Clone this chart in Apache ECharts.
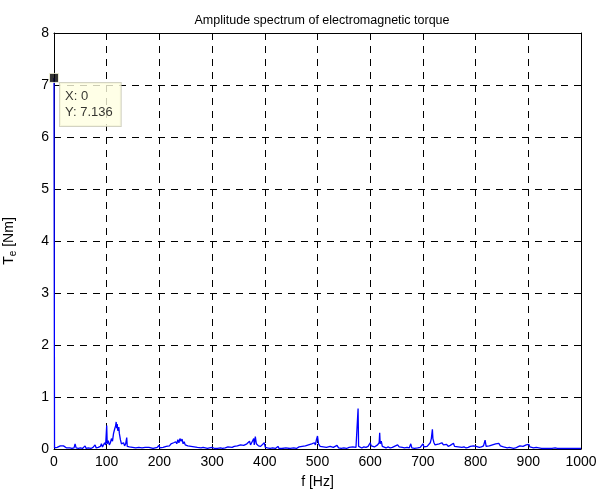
<!DOCTYPE html>
<html>
<head>
<meta charset="utf-8">
<script src="https://cdn.jsdelivr.net/npm/echarts@6/dist/echarts.min.js"></script>
<style>
html,body{margin:0;padding:0;background:#fff;}
#chart{width:598px;height:495px;}
</style>
</head>
<body>
<div id="chart"></div>
<script>
var titleText = 'Amplitude spectrum of electromagnetic torque';
var xTicks = [0,100,200,300,400,500,600,700,800,900,1000];
var yTicks = [0,1,2,3,4,5,6,7,8];
var freqHz = [0,1,3,6,9,12,15,18,21,24,27,30,34,38,40,42,46,50,54,57,59,61,65,70,74,78,80,84,88,90,92,94,96,98,
100,101,103,105,107,109,111,113,115,117,118,119,120,121,123,124,126,128,130,132,134,136,138,139,141,143,146,149,
152,155,158,161,164,167,170,173,176,180,184,188,192,196,199,201,204,207,210,213,216,219,222,225,227,229,231,233,
235,237,239,241,243,245,247,249,251,254,257,260,263,266,269,272,275,279,283,287,291,295,300,305,310,316,320,325,
330,333,338,342,345,348,351,354,357,360,363,366,369,371,373,375,377,379,380,382,384,386,388,390,392,395,399,401,
405,410,415,420,425,427,432,440,448,455,460,465,468,471,474,477,480,483,486,489,491,494,496,498,500,502,505,508,
511,514,517,520,524,527,530,533,537,540,545,550,555,560,563,567,570,573,576,577,578,581,584,588,592,596,598,600,
602,605,608,611,614,617,618,619,621,623,626,630,634,638,642,646,649,652,655,658,661,665,670,674,677,679,684,690,
695,698,700,702,705,708,711,714,716,718,719,721,723,725,727,729,731,733,736,739,742,745,748,752,755,758,760,763,
767,770,774,778,782,786,790,793,796,799,801,804,807,811,815,818,820,823,826,829,832,835,838,841,844,847,850,853,
856,860,864,868,872,876,880,884,887,890,893,896,899,901,903,906,910,915,918,925,935,945,951,955,965,975,990,1000];
var amplitudeNm = [7.136,0.02,0.01,0.03,0.05,0.06,0.07,0.06,0.04,0.02,0.01,0.02,0.01,0.02,0.1,0.02,0.01,0.02,0.01,0.02,0.06,0.01,0.02,0.01,0.03,0.08,0.02,0.03,0.05,0.1,0.04,0.06,0.12,0.08,
0.45,0.1,0.16,0.08,0.12,0.2,0.15,0.3,0.38,0.45,0.52,0.4,0.48,0.35,0.42,0.3,0.18,0.1,0.08,0.12,0.06,0.1,0.22,0.05,0.08,0.04,0.06,0.03,
0.05,0.02,0.04,0.03,0.05,0.02,0.04,0.03,0.02,0.03,0.02,0.01,0.02,0.03,0.07,0.02,0.04,0.03,0.06,0.05,0.08,0.06,0.1,0.08,0.12,0.09,0.14,0.1,
0.18,0.12,0.2,0.15,0.19,0.1,0.14,0.08,0.1,0.06,0.09,0.05,0.07,0.04,0.06,0.03,0.04,0.02,0.03,0.02,0.01,0.02,0.03,0.01,0.01,0.02,0.01,0.02,
0.04,0.01,0.03,0.05,0.04,0.06,0.05,0.08,0.06,0.07,0.05,0.1,0.07,0.15,0.08,0.12,0.1,0.2,0.08,0.24,0.1,0.12,0.06,0.08,0.05,0.04,0.12,0.03,
0.02,0.01,0.02,0.01,0.05,0.01,0.01,0.02,0.01,0.02,0.01,0.04,0.02,0.05,0.04,0.06,0.05,0.08,0.06,0.1,0.07,0.12,0.08,0.18,0.25,0.1,0.05,0.03,
0.04,0.06,0.03,0.02,0.05,0.02,0.03,0.02,0.07,0.02,0.01,0.02,0.01,0.03,0.02,0.04,0.02,0.03,0.05,0.78,0.05,0.03,0.02,0.04,0.03,0.05,0.08,0.12,
0.06,0.03,0.04,0.05,0.08,0.12,0.31,0.1,0.15,0.05,0.03,0.02,0.04,0.02,0.03,0.05,0.03,0.08,0.04,0.06,0.03,0.02,0.03,0.02,0.1,0.02,0.01,0.02,
0.03,0.05,0.1,0.04,0.03,0.05,0.07,0.12,0.2,0.38,0.2,0.12,0.08,0.06,0.09,0.07,0.1,0.08,0.12,0.08,0.06,0.09,0.05,0.07,0.04,0.11,0.05,0.03,
0.04,0.02,0.03,0.04,0.02,0.03,0.05,0.04,0.06,0.08,0.05,0.06,0.03,0.04,0.06,0.17,0.05,0.04,0.06,0.05,0.08,0.09,0.1,0.07,0.11,0.06,0.05,0.04,
0.03,0.02,0.03,0.02,0.01,0.02,0.04,0.06,0.04,0.05,0.07,0.08,0.06,0.09,0.04,0.03,0.02,0.03,0.02,0.01,0.01,0.01,0.02,0.01,0.01,0.01,0.01,0.01];
var tipPoint = [0, 7.136];

var seriesData = freqHz.map(function(f, i){ return [f, amplitudeNm[i]]; });
var font = '"Liberation Sans", Arial, Helvetica, sans-serif';
var chart = echarts.init(document.getElementById('chart'), null, {renderer:'canvas'});
var dash = [7,6];
chart.setOption({
  animation:false,
  backgroundColor:'#ffffff',
  title:{text:titleText,left:317,textAlign:'center',top:9,textStyle:{fontFamily:font,fontSize:12.5,fontWeight:'normal',color:'#000'}},
  grid:{left:54,right:17,top:33,bottom:46,show:false,containLabel:false,outerBoundsMode:'none'},
  xAxis:[{
    type:'value',min:0,max:1000,interval:100,position:'bottom',
    name:'f [Hz]',nameLocation:'middle',nameGap:26,
    nameTextStyle:{fontFamily:font,fontSize:14,color:'#000'},
    axisLine:{show:true,onZero:false,lineStyle:{color:'#000',width:1}},
    axisTick:{show:true,inside:true,length:5,lineStyle:{color:'#000'}},
    axisLabel:{fontFamily:font,fontSize:14,color:'#000',margin:6,
      formatter:function(v){return xTicks.indexOf(v)>=0?String(v):'';}},
    splitLine:{show:true,lineStyle:{color:'#000',type:dash,width:1}}
  },{
    type:'value',min:0,max:1000,interval:100,position:'top',
    axisLine:{show:true,onZero:false,lineStyle:{color:'#000',width:1}},
    axisTick:{show:true,inside:true,length:5,lineStyle:{color:'#000'}},
    axisLabel:{show:false},splitLine:{show:false}
  }],
  yAxis:[{
    type:'value',min:0,max:8,interval:1,position:'left',
    name:'{a|T}{b|e}{a| [Nm]}',nameLocation:'middle',nameGap:36,nameRotate:90,
    nameTextStyle:{rich:{a:{fontFamily:font,fontSize:14,color:'#000'},b:{fontFamily:font,fontSize:10,color:'#000',verticalAlign:'bottom',padding:[7,0,0,0]}}},
    axisLine:{show:true,onZero:false,lineStyle:{color:'#000',width:1}},
    axisTick:{show:true,inside:true,length:5,lineStyle:{color:'#000'}},
    axisLabel:{fontFamily:font,fontSize:14,color:'#000',margin:5,
      formatter:function(v){return yTicks.indexOf(v)>=0?String(v):'';}},
    splitLine:{show:true,lineStyle:{color:'#000',type:dash,width:1}}
  },{
    type:'value',min:0,max:8,interval:1,position:'right',
    axisLine:{show:true,onZero:false,lineStyle:{color:'#000',width:1}},
    axisTick:{show:true,inside:true,length:5,lineStyle:{color:'#000'}},
    axisLabel:{show:false},splitLine:{show:false}
  }],
  series:[{
    type:'line',data:seriesData,symbol:'none',xAxisIndex:0,yAxisIndex:0,
    lineStyle:{color:'#0000ff',width:1.3},itemStyle:{color:'#0000ff'},clip:true,z:3
  },{
    type:'scatter',data:[tipPoint],symbol:'rect',symbolSize:9,xAxisIndex:0,yAxisIndex:0,
    itemStyle:{color:'#000',borderColor:'#ffffe1',borderWidth:1},z:5,
    label:{show:true,position:[11,10],formatter:'X: 0\nY: 7.136',
      fontFamily:font,fontSize:13,color:'#000',lineHeight:16,
      backgroundColor:'#ffffe1',borderColor:'#c8c8b4',borderWidth:1,padding:[5,8,6,5],align:'left',verticalAlign:'top'}
  }]
});
</script>
</body>
</html>
